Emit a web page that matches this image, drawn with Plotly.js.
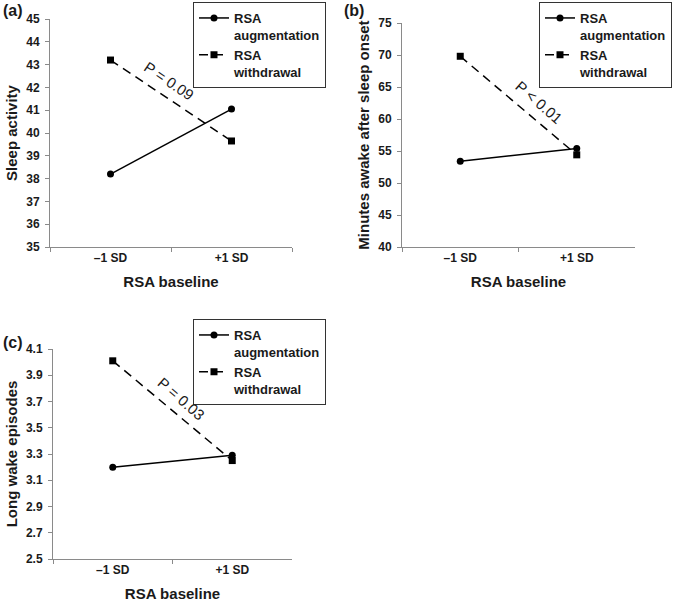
<!DOCTYPE html>
<html>
<head>
<meta charset="utf-8">
<script src="https://cdn.plot.ly/plotly-3.0.1.min.js"></script>
<style>html,body{margin:0;padding:0;background:#fff;}#chart{width:676px;height:611px;}</style>
</head>
<body>
<div id="chart"></div>
<script>
// ---- data ----
const categories = ['\u20131 SD', '+1 SD'];
const seriesNames = ['RSA<br>augmentation', 'RSA<br>withdrawal'];

const sleepActivityAug = [38.2, 41.05];
const sleepActivityWd = [43.2, 39.65];

const wasoAug = [53.4, 55.4];
const wasoWd = [69.8, 54.4];

const longWakeAug = [3.2, 3.29];
const longWakeWd = [4.01, 3.25];

const yTicksA = [35, 36, 37, 38, 39, 40, 41, 42, 43, 44, 45];
const yTicksB = [40, 45, 50, 55, 60, 65, 70, 75];
const yTicksC = [2.5, 2.7, 2.9, 3.1, 3.3, 3.5, 3.7, 3.9, 4.1];

const pLabels = ['P = 0.09', 'P < 0.01', 'P = 0.03'];
const panelLabels = ['(a)', '(b)', '(c)'];
const yTitles = ['Sleep activity', 'Minutes awake after sleep onset', 'Long wake episodes'];
const xTitle = 'RSA baseline';

// ---- layout helpers ----
const W = 676, H = 611;
const px = v => v / W;
const py = v => 1 - v / H;
const FONT = 'Liberation Sans, Arial, sans-serif';
const BOLD = 'Liberation Sans, Arial, sans-serif';
const txtCol = '#1a1a1a';
const axCol = '#8a8a8a';

function mkTraces(aug, wd, xa, ya, leg) {
  return [
    {x: categories, y: aug, xaxis: xa, yaxis: ya, legend: leg, name: seriesNames[0],
     type: 'scatter', mode: 'lines+markers',
     line: {color: '#000', width: 1.5},
     marker: {symbol: 'circle', size: 7, color: '#000'}},
    {x: categories, y: wd, xaxis: xa, yaxis: ya, legend: leg, name: seriesNames[1],
     type: 'scatter', mode: 'lines+markers',
     line: {color: '#000', width: 1.5, dash: '9px,6px'},
     marker: {symbol: 'square', size: 7, color: '#000'}}
  ];
}

const data = [
  ...mkTraces(sleepActivityAug, sleepActivityWd, 'x', 'y', 'legend'),
  ...mkTraces(wasoAug, wasoWd, 'x2', 'y2', 'legend2'),
  ...mkTraces(longWakeAug, longWakeWd, 'x3', 'y3', 'legend3')
];

function xAxis(d, anchor) {
  return {
    domain: d, anchor: anchor, type: 'category', range: [-0.5, 1.5],
    showline: true, linecolor: axCol, linewidth: 1,
    ticks: 'outside', tickson: 'boundaries', ticklen: 4, tickcolor: axCol,
    showgrid: false, zeroline: false, fixedrange: true,
    tickfont: {family: BOLD, size: 12, color: txtCol, weight: 'bold'},
    title: {text: '<b>' + xTitle + '</b>', font: {family: BOLD, size: 15, color: txtCol}, standoff: 12}
  };
}
function yAxis(d, anchor, ticks, title) {
  return {
    domain: d, anchor: anchor, range: [ticks[0], ticks[ticks.length - 1]],
    tickvals: ticks, ticktext: ticks.map(t => '<b>' + (Number.isInteger(t) ? t : t.toFixed(1)) + '</b>'),
    showline: true, linecolor: axCol, linewidth: 1,
    ticks: 'outside', ticklen: 4, tickcolor: axCol, ticklabelstandoff: 3,
    showgrid: false, zeroline: false, fixedrange: true,
    tickfont: {family: BOLD, size: 12, color: txtCol},
    title: {text: '<b>' + title + '</b>', font: {family: BOLD, size: 15, color: txtCol}, standoff: 4}
  };
}
function legendAt(x0, y0) {
  return {
    x: px(x0), y: py(y0), xanchor: 'left', yanchor: 'top',
    bordercolor: '#333', borderwidth: 1, bgcolor: '#fff',
    font: {family: BOLD, size: 13, color: txtCol, weight: 'bold'},
    valign: 'top', itemwidth: 30, tracegroupgap: 0
  };
}

const layout = {
  width: W, height: H,
  margin: {l: 0, r: 0, t: 0, b: 0},
  paper_bgcolor: '#fff', plot_bgcolor: '#fff',
  showlegend: true,
  xaxis: xAxis([px(50), px(292)], 'y'),
  yaxis: yAxis([py(247), py(19)], 'x', yTicksA, yTitles[0]),
  xaxis2: xAxis([px(402), px(635)], 'y2'),
  yaxis2: yAxis([py(247), py(23)], 'x2', yTicksB, yTitles[1]),
  xaxis3: xAxis([px(53), px(292)], 'y3'),
  yaxis3: yAxis([py(559), py(349)], 'x3', yTicksC, yTitles[2]),
  legend: legendAt(193, 2),
  legend2: legendAt(539, 2),
  legend3: legendAt(193, 319),
  annotations: [
    {xref: 'x', yref: 'y', x: 0.48, y: 42.3, text: pLabels[0], showarrow: false, textangle: 34,
     font: {family: FONT, size: 15, color: txtCol}},
    {xref: 'x2', yref: 'y2', x: 0.68, y: 62.6, text: pLabels[1], showarrow: false, textangle: 41,
     font: {family: FONT, size: 15, color: txtCol}},
    {xref: 'x3', yref: 'y3', x: 0.57, y: 3.72, text: pLabels[2], showarrow: false, textangle: 41,
     font: {family: FONT, size: 15, color: txtCol}},
    {xref: 'paper', yref: 'paper', x: px(1), y: py(10), xanchor: 'left', yanchor: 'middle', showarrow: false,
     text: '<b>' + panelLabels[0] + '</b>', font: {family: BOLD, size: 16, color: txtCol}},
    {xref: 'paper', yref: 'paper', x: px(342), y: py(10), xanchor: 'left', yanchor: 'middle', showarrow: false,
     text: '<b>' + panelLabels[1] + '</b>', font: {family: BOLD, size: 16, color: txtCol}},
    {xref: 'paper', yref: 'paper', x: px(1), y: py(342), xanchor: 'left', yanchor: 'middle', showarrow: false,
     text: '<b>' + panelLabels[2] + '</b>', font: {family: BOLD, size: 16, color: txtCol}}
  ]
};

Plotly.newPlot('chart', data, layout, {displayModeBar: false, staticPlot: true});
</script>
</body>
</html>
